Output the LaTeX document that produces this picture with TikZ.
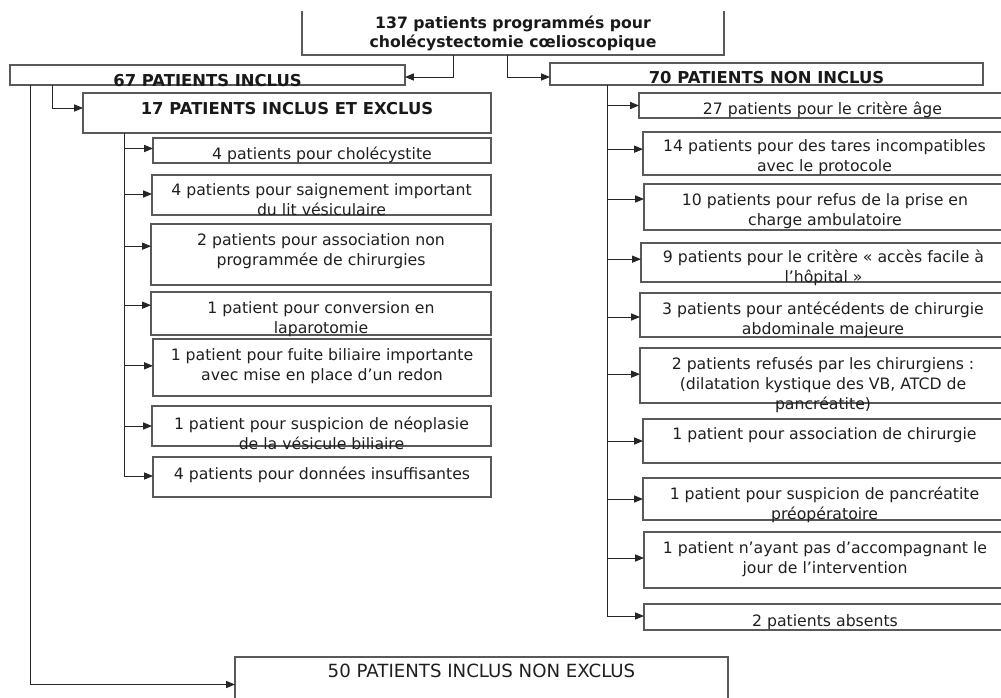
\documentclass[tikz,border=0pt]{standalone}
\usepackage{fontspec}
\setmainfont{DejaVu Sans}
\usetikzlibrary{arrows.meta}
\tikzset{
  box/.style={draw=black!65, line width=0.9pt, inner sep=0pt, outer sep=0pt, fill=none},
  boxline/.style={draw=black!65, line width=0.9pt},
  txt/.style={inner sep=0pt, outer sep=0pt, align=center, text=black!88, font=\fontsize{13.4}{17}\selectfont},
  hdr/.style={font=\fontsize{14}{17}\selectfont\bfseries, text=black!90},
  arr/.style={draw=black!85, line width=0.8pt, -{Triangle[length=7.5pt,width=6pt]}}
}
% name, x1, y1, x2, y2, first-line centre y, text
\newcommand\mybox[8][]{%
  \node[box, minimum width={(#5-#3)*0.03cm}, minimum height={(#6-#4)*0.03cm}] (#2) at ({(#3+#5)/2},{(#4+#6)/2}) {};
  \node[txt,#1,anchor=north] (#2-t) at ({(#3+#5)/2},{#7-9}) {\strut #8};
}
\begin{document}
\begin{tikzpicture}[x=0.03cm,y=-0.03cm]
\useasboundingbox (0,0) rectangle (1001,698);
\clip (0,0) rectangle (1001,698);

% top box (open at the top)
\node[inner sep=0pt, outer sep=0pt, minimum width={422*0.03cm}, minimum height={44*0.03cm}] (top) at (513,33) {};
\draw[boxline] (top.north west) -- (top.south west) -- (top.south east) -- (top.north east);
\node[txt, font=\fontsize{13.4}{16.2}\selectfont\bfseries, text=black!90, anchor=north] (top-t) at (513,15) {\strut 137 patients programmés pour\\cholécystectomie cœlioscopique};

% level 1
\mybox[hdr]{b67}{10}{65}{405}{85}{82}{67 PATIENTS INCLUS}
\mybox[hdr]{b70}{550}{63}{983}{85}{79}{70 PATIENTS NON INCLUS}
\mybox[hdr]{b17}{83}{93}{491}{133}{110}{17 PATIENTS INCLUS ET EXCLUS}
\mybox[font=\fontsize{15.5}{17}\selectfont]{b50}{235}{657}{728}{712}{673}{50 PATIENTS INCLUS NON EXCLUS}

% left children
\mybox{c1}{153}{138}{491}{163}{155}{4 patients pour cholécystite}
\mybox{c2}{152}{175}{491}{215}{191}{4 patients pour saignement important\\du lit vésiculaire}
\mybox{c3}{151}{224}{491}{285}{241}{2 patients pour association non\\programmée de chirurgies}
\mybox{c4}{151}{292}{491}{335}{309}{1 patient pour conversion en\\laparotomie}
\mybox{c5}{153}{339}{491}{396}{356}{1 patient pour fuite biliaire importante\\avec mise en place d’un redon}
\mybox{c6}{152}{406}{491}{446}{425}{1 patient pour suspicion de néoplasie\\de la vésicule biliaire}
\mybox{c7}{153}{457}{491}{497}{475}{4 patients pour données insuffisantes}

% right children
\mybox{r1}{639}{93}{1006}{118}{110}{27 patients pour le critère âge}
\mybox{r2}{643}{132}{1006}{175}{147}{14 patients pour des tares incompatibles\\avec le protocole}
\mybox{r3}{644}{184}{1006}{230}{201}{10 patients pour refus de la prise en\\charge ambulatoire}
\mybox{r4}{641}{243}{1006}{282}{258}{9 patients pour le critère « accès facile à\\l’hôpital »}
\mybox{r5}{640}{293}{1006}{337}{310}{3 patients pour antécédents de chirurgie\\abdominale majeure}
\mybox{r6}{640}{348}{1006}{403}{365}{2 patients refusés par les chirurgiens :\\(dilatation kystique des VB, ATCD de\\pancréatite)}
\mybox{r7}{643}{419}{1006}{463}{435}{1 patient pour association de chirurgie}
\mybox{r8}{643}{478}{1006}{520}{495}{1 patient pour suspicion de pancréatite\\préopératoire}
\mybox{r9}{644}{532}{1006}{588}{549}{1 patient n’ayant pas d’accompagnant le\\jour de l’intervention}
\mybox{r10}{644}{604}{1006}{630}{622}{2 patients absents}

% trunk coordinates
\coordinate (jl) at (453,0);
\coordinate (jr) at (507,0);
\coordinate (k1) at (52,0);
\coordinate (k2) at (30,0);
\coordinate (tl) at (124,0);
\coordinate (tr) at (607,0);

% connectors
\draw[arr] (top.south -| jl) |- ([yshift=-0.06cm]b67.east);
\draw[arr] (top.south -| jr) |- ([yshift=-0.09cm]b70.west);
\draw[arr] (b67.south -| k1) |- ([yshift=0.15cm]b17.west);
\draw[arr] (b67.south -| k2) |- (b50.west);
\foreach \c/\s in {c1/0.06,c2/0.03,c3/0.25,c4/0.25,c5/0.05,c6/0,c7/0.03}
  \draw[arr] (b17.south -| tl) |- ([yshift=\s cm]\c.west);
\foreach \c/\s in {r1/0,r2/0.13,r3/0.24,r4/0.1,r5/-0.06,r6/0.04,r7/0,r8/0,r9/0.06,r10/0.03}
  \draw[arr] (b70.south -| tr) |- ([yshift=\s cm]\c.west);
\end{tikzpicture}
\end{document}
